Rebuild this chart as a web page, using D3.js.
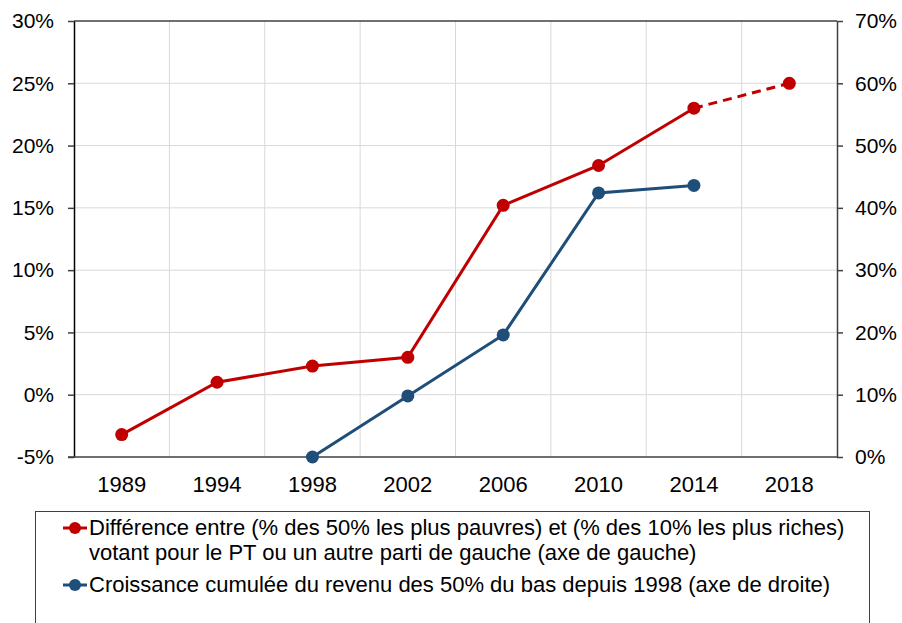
<!DOCTYPE html>
<html>
<head>
<meta charset="utf-8">
<script src="https://cdn.jsdelivr.net/npm/d3@7"></script>
<style>
  html, body { margin: 0; padding: 0; background: #fff; }
  svg { display: block; font-family: "Liberation Sans", Arial, sans-serif; }
</style>
</head>
<body>
<svg id="chart" width="902" height="623"></svg>
<script>
const years = ["1989", "1994", "1998", "2002", "2006", "2010", "2014", "2018"];
const gapValues = [-3.2, 1.0, 2.3, 3.0, 15.2, 18.4, 23.0, 25.0];
const growthYears = ["1998", "2002", "2006", "2010", "2014"];
const growthValues = [0.0, 9.8, 19.6, 42.4, 43.6];
const leftTicks = [-5, 0, 5, 10, 15, 20, 25, 30];
const rightTicks = [0, 10, 20, 30, 40, 50, 60, 70];
const legendGap = ["Différence entre (% des 50% les plus pauvres) et (% des 10% les plus riches)",
                   "votant pour le PT ou un autre parti de gauche (axe de gauche)"];
const legendGrowth = ["Croissance cumulée du revenu des 50% du bas depuis 1998 (axe de droite)"];

const RED = "#C00000", BLUE = "#1F4E79";
const svg = d3.select("#chart");
const L = 74, R = 837, T = 21, B = 457;

const x = d3.scaleBand().domain(years).range([L, R]);
const xc = d => x(d) + x.bandwidth() / 2;
const yL = d3.scaleLinear().domain([-5, 30]).range([B, T]);
const yR = d3.scaleLinear().domain([0, 70]).range([B, T]);

// gridlines
const grid = svg.append("g");
grid.selectAll("line.h").data(leftTicks.slice(1, -1)).join("line")
  .attr("x1", L).attr("x2", R).attr("y1", d => yL(d)).attr("y2", d => yL(d))
  .attr("stroke", "#d9d9d9").attr("stroke-width", 1);
grid.selectAll("line.v").data(years.slice(1)).join("line")
  .attr("x1", d => x(d)).attr("x2", d => x(d)).attr("y1", T).attr("y2", B)
  .attr("stroke", "#d9d9d9").attr("stroke-width", 1);
// top border
svg.append("line").attr("x1", L).attr("x2", R).attr("y1", T).attr("y2", T)
  .attr("stroke", "#404040").attr("stroke-width", 1.5);

// axes
const fmt = d => d + "%";
const gl = svg.append("g").attr("transform", `translate(${L},0)`)
  .call(d3.axisLeft(yL).tickValues(leftTicks).tickFormat(fmt).tickSize(6).tickSizeOuter(0).tickPadding(14));
const gr = svg.append("g").attr("transform", `translate(${R},0)`)
  .call(d3.axisRight(yR).tickValues(rightTicks).tickFormat(fmt).tickSize(6).tickSizeOuter(0).tickPadding(12));
const gb = svg.append("g").attr("transform", `translate(0,${B})`)
  .call(d3.axisBottom(x).tickSize(0).tickPadding(19));
gb.select(".domain").attr("d", `M${L - 6},0H${R}`);
[gl, gr, gb].forEach(g => {
  g.selectAll("text").attr("font-size", 21).attr("fill", "#000")
    .attr("font-family", '"Liberation Sans", Arial, sans-serif');
  g.select(".domain").attr("stroke", "#404040").attr("stroke-width", 1.5);
  g.selectAll(".tick line").attr("stroke", "#404040").attr("stroke-width", 1.5);
});
gb.selectAll("text").attr("font-size", 22);
gl.select(".domain").attr("stroke", "#000");

// red series
const gapPts = years.map((yr, i) => ({ yr, v: gapValues[i] }));
const line = d3.line().x(d => xc(d.yr)).y(d => d.y);
const gapXY = gapPts.map(d => ({ yr: d.yr, y: yL(d.v) }));
svg.append("path").datum(gapXY.slice(0, 7)).attr("d", line)
  .attr("fill", "none").attr("stroke", RED).attr("stroke-width", 3);
svg.append("path").datum(gapXY.slice(6)).attr("d", line)
  .attr("fill", "none").attr("stroke", RED).attr("stroke-width", 3)
  .attr("stroke-dasharray", "9,6");
svg.selectAll("circle.gap").data(gapXY).join("circle")
  .attr("cx", d => xc(d.yr)).attr("cy", d => d.y).attr("r", 6.5).attr("fill", RED);

// blue series
const growthXY = growthYears.map((yr, i) => ({ yr, y: yR(growthValues[i]) }));
svg.append("path").datum(growthXY).attr("d", line)
  .attr("fill", "none").attr("stroke", BLUE).attr("stroke-width", 3);
svg.selectAll("circle.gr").data(growthXY).join("circle")
  .attr("cx", d => xc(d.yr)).attr("cy", d => d.y).attr("r", 6.5).attr("fill", BLUE);

// legend
svg.append("rect").attr("x", 35.5).attr("y", 511.5).attr("width", 834).attr("height", 130)
  .attr("fill", "#fff").attr("stroke", "#404040").attr("stroke-width", 1);
const legend = [
  { color: RED, lines: legendGap, y: 535 },
  { color: BLUE, lines: legendGrowth, y: 592 }
];
legend.forEach(item => {
  const g = svg.append("g");
  const cy = item.y - 7;
  g.append("line").attr("x1", 63).attr("x2", 87).attr("y1", cy).attr("y2", cy)
    .attr("stroke", item.color).attr("stroke-width", 3);
  g.append("circle").attr("cx", 75).attr("cy", cy).attr("r", 6).attr("fill", item.color);
  item.lines.forEach((t, i) => {
    g.append("text").attr("x", 89).attr("y", item.y + i * 25)
      .attr("font-size", 22).attr("fill", "#000").text(t);
  });
});
</script>
</body>
</html>
